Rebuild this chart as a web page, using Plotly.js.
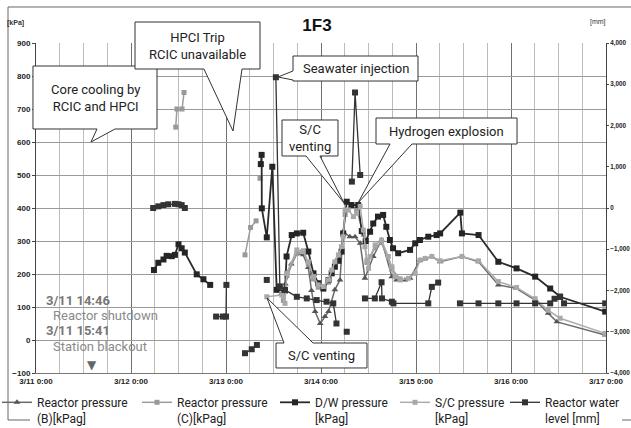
<!DOCTYPE html>
<html><head><meta charset="utf-8">
<script src="https://cdn.plot.ly/plotly-3.0.1.min.js"></script>
<style>html,body{margin:0;padding:0;background:#fff}#chart{width:631px;height:428px}</style>
</head><body><div id="chart"></div>
<script>
// ---- Data (hours elapsed since 3/11 0:00) ----
const dayTicks  = [0, 24, 48, 72, 96, 120, 144];
const dayLabels = ['3/11 0:00', '3/12 0:00', '3/13 0:00', '3/14 0:00', '3/15 0:00', '3/16 0:00', '3/17 0:00'];

const seriesNames = [
  'Reactor pressure<br>(B)[kPag]',
  'Reactor pressure<br>(C)[kPag]',
  'D/W pressure<br>[kPag]',
  'S/C pressure<br>[kPag]',
  'Reactor water<br>level [mm]'
];

// Reactor pressure (B) [kPag]
const rpbHours = [62.0, 63.0, 64.5, 65.9, 67.5, 68.8, 69.6, 70.5, 71.8, 73.0, 73.9, 75.5, 76.8, 77.6, 79.3, 80.6, 81.9, 83.1, 85.2, 87.3, 89.9, 91.1, 93.2, 94.5, 97.0, 98.3, 100.0, 102.1, 107.6, 111.8, 116.8, 121.4, 126.1, 129.4, 131.6, 143.8];
const rpbKPa   = [140, 170, 230, 262, 258, 220, 150, 86, 50, 71, 86, 152, 182, 328, 313, 313, 293, 187, 253, 303, 192, 182, 182, 187, 242, 247, 253, 237, 253, 237, 167, 156, 121, 81, 55, 15];

// Reactor pressure (C) [kPag]
const rpcHours = [35.3, 35.6, 36.9, 37.4, null, 52.8, 54.2, 55.6, null, 56.6, null, 62.5, 63.4, 65.9, 67.5, 68.8, 70.1, 71.3, 72.6, 73.9, 75.5, 77.2, 78.1, 79.5, 81.0, 82.7, 83.6, 85.7, 87.3, 89.9, 92.0];
const rpcKPa   = [645, 700, 700, 750, null, 258, 341, 361, null, 490, null, 120, 195, 262, 270, 230, 185, 160, 155, 175, 230, 280, 380, 405, 395, 320, 235, 280, 295, 215, 185];

// D/W pressure [kPag]
const dwHours = [29.8, 30.9, 32.2, 33.0, 34.3, 35.1, 36.0, 36.8, 37.6, 40.6, 42.3, 44.0, null, 56.8, 57.0, 57.05, 58.3, 59.7, 60.8, 62.9, 63.3, 64.6, 65.9, 67.5, 68.8, 70.1, 71.3, 72.6, 73.9, 74.7, 75.5, 76.4, 77.2, 77.6, 78.5, 79.7, 81.4, 82.3, 83.3, 84.4, 85.2, 86.4, 87.7, 88.5, 89.4, 90.2, 91.5, 94.5, 95.8, 97.0, 99.1, 101.2, 102.1, 107.2, 107.6, 111.8, 116.8, 121.4, 126.1, 129.9, 132.4, 143.8];
const dwKPa   = [212, 234, 244, 255, 254, 258, 290, 278, 265, 199, 184, 167, null, 533, 561, 399, 311, 525, 152, 150, 253, 318, 323, 325, 268, 202, 172, 156, 182, 202, 222, 240, 268, 323, 419, 409, 409, 330, 300, 328, 353, 374, 379, 343, 303, 278, 263, 273, 293, 303, 313, 318, 323, 386, 323, 318, 237, 217, 192, 156, 131, 86];

// S/C pressure [kPag]
const scHours = [58.3, 62.1, 62.9, 63.3, 65.9, 67.5, 68.8, 70.1, 71.3, 72.6, 73.9, 74.7, 75.5, 76.4, 77.2, 77.6, 78.1, 78.9, 80.2, 81.0, 81.9, 82.7, 83.1, 83.6, 84.0, 84.4, 85.7, 87.3, 89.0, 89.9, 90.7, 92.0, 94.1, 95.8, 97.0, 98.3, 100.0, 102.1, 107.6, 111.8, 116.8, 121.4, 126.1, 129.4, 132.4, 143.8];
const scKPa   = [131, 136, 111, 202, 273, 268, 237, 192, 167, 162, 182, 212, 237, 258, 283, 313, 394, 394, 374, 384, 405, 333, 283, 242, 217, 253, 288, 303, 253, 222, 192, 182, 187, 202, 242, 247, 253, 240, 253, 240, 177, 159, 125, 90, 66, 20];

// Reactor water level [mm]
const wlHours = [29.6, 30.9, 32.2, 33.4, 35.1, 36.0, 36.8, 37.6, null, 45.5, 47.2, 48.0, 48.1, null, 52.8, 54.5, 55.8, null, 58.3, null, 60.6, 61.6, 62.9, 65.9, 68.4, 70.9, 73.4, 75.1, 75.9, null, 78.5, null, 79.8, 80.6, 81.9, null, 83.1, 85.6, 87.3, 87.4, 89.9, 90.3, 99.1, 100.0, 101.6, null, 107.1, 111.8, 116.8, 121.4, 126.1, 129.9, 131.0, 132.4, 133.4, 143.8];
const wlMM    = [0, 40, 70, 90, 100, 90, 70, 0, null, -2632, -2632, -2632, -1864, null, -3520, -3424, -3320, null, -1744, null, 3170, -1900, -1984, -2152, -2192, -2232, -2272, -2312, -2800, null, -3000, null, 640, 2800, 800, null, -2192, -2192, -1800, -2192, -2272, -2312, -2312, -1912, -1808, null, -2312, -2312, -2312, -2312, -2312, -2312, -2200, -2150, -2312, -2312];

// ---- Layout helpers (pixel -> paper) ----
const W = 631, H = 428, M = {l: 36, r: 25, t: 43, b: 55};
const PW = W - M.l - M.r, PH = H - M.t - M.b;
const px = x => (x - M.l) / PW;
const py = y => (H - M.b - y) / PH;
const poly = pts => 'M' + pts.map(p => px(p[0]).toFixed(4) + ',' + py(p[1]).toFixed(4)).join(' L') + ' Z';
const open = pts => 'M' + pts.map(p => px(p[0]).toFixed(4) + ',' + py(p[1]).toFixed(4)).join(' L');

const tickFont = {family: 'Liberation Sans', size: 8, color: '#222', weight: 700};
const tickFont2 = {family: 'Liberation Sans', size: 6.3, color: '#222', weight: 700};
const textFont = {family: 'Roboto', size: 13, color: '#222'};
const grayFont = {family: 'Roboto', size: 13, color: '#8a8a8a'};

function leg(xText) {
  return {orientation: 'h', x: px(xText - 40), xanchor: 'left', y: py(388), yanchor: 'top',
          valign: 'top', font: {family: 'Roboto', size: 12, color: '#222'},
          bgcolor: 'rgba(0,0,0,0)', borderwidth: 0, itemwidth: 30};
}

const traces = [
  {x: rpbHours, y: rpbKPa, name: seriesNames[0], legend: 'legend', mode: 'lines+markers',
   line: {color: '#6a6a6a', width: 1.5}, marker: {symbol: 'triangle-up', size: 6, color: '#555'}},
  {x: rpcHours, y: rpcKPa, name: seriesNames[1], legend: 'legend2', mode: 'lines+markers',
   line: {color: '#9c9c9c', width: 1.5}, marker: {symbol: 'square', size: 5, color: '#999'}},
  {x: dwHours, y: dwKPa, name: seriesNames[2], legend: 'legend3', mode: 'lines+markers',
   line: {color: '#2a2a2a', width: 1.8}, marker: {symbol: 'square', size: 6, color: '#252525'}},
  {x: scHours, y: scKPa, name: seriesNames[3], legend: 'legend4', mode: 'lines+markers',
   line: {color: '#acacac', width: 1.5}, marker: {symbol: 'square', size: 5, color: '#a8a8a8'}},
  {x: wlHours, y: wlMM, name: seriesNames[4], legend: 'legend5', yaxis: 'y2', mode: 'lines+markers',
   line: {color: '#333', width: 1.3}, marker: {symbol: 'square', size: 6, color: '#333'}}
];
traces.forEach(t => { t.showlegend = true; t.connectgaps = false; t.hoverinfo = 'skip'; });

const bubbles = [
  [[33,66],[157,66],[157,129],[115,129],[91,142],[97,129],[33,129]],
  [[135,22],[260,22],[260,69],[242,69],[233,131],[204,69],[135,69]],
  [[293,56],[418,56],[418,81],[293,81],[293,80],[278,77],[293,71]],
  [[282,120],[338,120],[338,156],[320,156],[344,203],[306,156],[282,156]],
  [[376,118],[517,118],[517,144],[412,144],[358,203],[390,144],[376,144]],
  [[276,343],[284,343],[267,298],[313,343],[367,343],[367,368],[276,368]]
];
const shapes = bubbles.map(b => ({type: 'path', xref: 'paper', yref: 'paper', path: poly(b),
  fillcolor: '#fff', line: {color: '#333', width: 1}, layer: 'above'}));
shapes.push({type: 'path', xref: 'paper', yref: 'paper', path: open([[30,420],[8,420],[8,7],[640,7]]),
  fillcolor: 'rgba(0,0,0,0)', line: {color: '#666', width: 1}, layer: 'above'});
shapes.push({type: 'path', xref: 'paper', yref: 'paper', path: open([[622,420],[640,420]]),
  fillcolor: 'rgba(0,0,0,0)', line: {color: '#666', width: 1}, layer: 'above'});

const callouts = [
  ['Core cooling by<br>RCIC and HPCI', 95, 97.5],
  ['HPCI Trip<br>RCIC unavailable', 197.5, 45.5],
  ['Seawater injection', 355.5, 68.5],
  ['S/C<br>venting', 310, 138],
  ['Hydrogen explosion', 446.5, 131],
  ['S/C venting', 321.5, 355.5]
];
const annotations = callouts.map(c => ({text: c[0], xref: 'paper', yref: 'paper', x: px(c[1]), y: py(c[2]),
  xanchor: 'center', yanchor: 'middle', showarrow: false, font: textFont}));
const grayNotes = [
  ['3/11 14:46', 44, 300, true],
  ['Reactor shutdown', 51, 315, false],
  ['3/11 15:41', 44, 330.7, true],
  ['Station blackout', 51, 346.7, false]
];
grayNotes.forEach(g => annotations.push({text: g[0], xref: 'paper', yref: 'paper', x: px(g[1]), y: py(g[2]),
  xanchor: 'left', yanchor: 'middle', showarrow: false,
  font: g[3] ? {family: 'Roboto', size: 13, color: '#777', weight: 700} : grayFont}));
annotations.push({text: '▼', xref: 'paper', yref: 'paper', x: px(92), y: py(365), xanchor: 'center', yanchor: 'middle',
  showarrow: false, font: {family: 'DejaVu Sans', size: 12, color: '#666'}});
annotations.push({text: '[kPa]', xref: 'paper', yref: 'paper', x: px(15), y: py(23), xanchor: 'center', yanchor: 'middle',
  showarrow: false, font: {family: 'Liberation Sans', size: 7, color: '#333', weight: 700}});
annotations.push({text: '[mm]', xref: 'paper', yref: 'paper', x: px(598), y: py(22), xanchor: 'center', yanchor: 'middle',
  showarrow: false, font: {family: 'Liberation Sans', size: 7, color: '#333'}});

const layout = {
  width: W, height: H, margin: {l: M.l, r: M.r, t: M.t, b: M.b, autoexpand: false},
  paper_bgcolor: '#fff', plot_bgcolor: '#fff', showlegend: true,
  title: {text: '1F3', font: {family: 'Liberation Sans', size: 17, color: '#111', weight: 700},
          xref: 'container', x: 317 / W, xanchor: 'center', yref: 'container', y: 1 - 25 / H, yanchor: 'middle'},
  xaxis: {range: [0, 144], tickmode: 'array', tickvals: dayTicks, ticktext: dayLabels,
          showgrid: true, gridcolor: '#707070', gridwidth: 1,
          minor: {tickmode: 'linear', tick0: 0, dtick: 6, showgrid: true, gridcolor: '#bcbcbc', gridwidth: 1, ticks: ''},
          showline: true, linecolor: '#777', zeroline: false, ticks: '', tickfont: tickFont, fixedrange: true},
  yaxis: {range: [-100, 900], tickmode: 'linear', tick0: 0, dtick: 100, showgrid: true, gridcolor: '#9a9a9a', gridwidth: 1,
          zeroline: false, showline: true, linecolor: '#444', ticks: 'outside', ticklen: 3, tickcolor: '#444',
          tickfont: tickFont, fixedrange: true},
  yaxis2: {overlaying: 'y', side: 'right', range: [-4000, 4000], tickmode: 'linear', tick0: 0, dtick: 1000, tickformat: ',',
           showgrid: false, zeroline: false, showline: true, linecolor: '#444', ticks: 'outside', ticklen: 2, tickcolor: '#444',
           ticklabelstandoff: 0, tickfont: tickFont2, fixedrange: true},
  legend: leg(37), legend2: leg(177), legend3: leg(315), legend4: leg(435), legend5: leg(545),
  shapes: shapes, annotations: annotations
};

Plotly.newPlot('chart', traces, layout, {staticPlot: true, displayModeBar: false});
</script></body></html>
